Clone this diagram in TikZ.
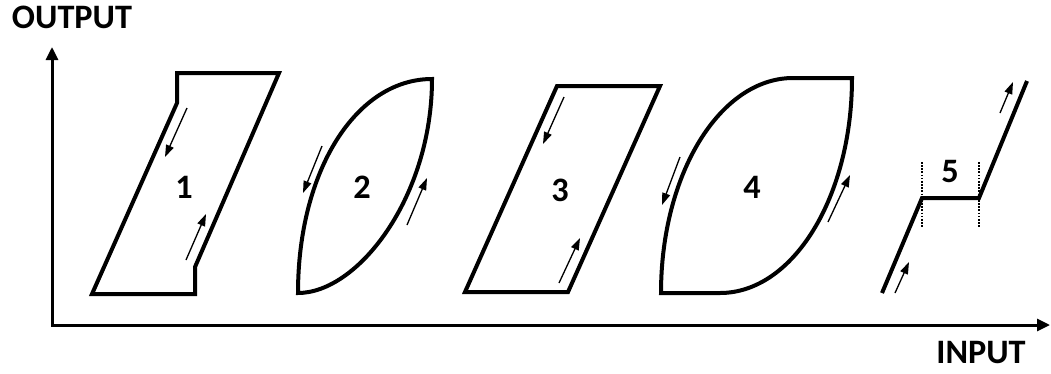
\documentclass[tikz,border=0pt]{standalone}
\usepackage{fontspec}
\setmainfont{Carlito}
\usetikzlibrary{arrows.meta}

\begin{document}
\begin{tikzpicture}[x=0.02cm, y=-0.02cm,
  loop/.style={line width=0.08cm, line join=miter},
  flow/.style={line width=0.75pt, -{Triangle[length=0.24cm, width=0.16cm]}},
  guide/.style={line width=1.2pt, dash pattern=on 0.9pt off 0.9pt},
  tag/.style={font=\bfseries\fontsize{19.5}{20}\selectfont, inner sep=0pt}]
\useasboundingbox (0,0) rectangle (1051,373);
\coordinate (ytop) at (52,47);
\coordinate (origin) at (52,325);
\coordinate (xend) at (1050,325);
\draw[line width=0.06cm, {Triangle[length=0.26cm, width=0.24cm]}-{Triangle[length=0.26cm, width=0.24cm]}]
  (ytop) -- (origin) -- (xend);
\node[tag] (output) at (72,17) {OUTPUT};
\node[tag] (input) at (981,353) {INPUT};

\draw[loop] (177,73) -- (279,73) -- (195,267) -- (195,294) -- (92,294) -- (177,103) -- cycle;
\draw[flow] (187,108) -- (165,157);
\draw[flow] (186,260) -- (206,214);
\node[tag] (n1) at (184,187) {1};

\draw[loop] (298,293) .. controls (298,171) and (356,79) .. (432,79)
  .. controls (432,197) and (358,293) .. cycle;
\draw[flow] (322,146) -- (303,193);
\draw[flow] (407,225) -- (427,178);
\node[tag] (n2) at (362,187) {2};

\draw[loop] (557,86) -- (660,86) -- (568,292) -- (465,292) -- cycle;
\draw[flow] (564,97) -- (543,144);
\draw[flow] (559,283) -- (580,238);
\node[tag] (n3) at (560,190) {3};

\draw[loop] (661,293) .. controls (661,174) and (720,78) .. (793,78) -- (852,78)
  .. controls (852,197) and (793,293) .. (720,293) -- cycle;
\draw[flow] (680,157) -- (662,205);
\draw[flow] (828,222) -- (850,175);
\node[tag] (n4) at (752,187) {4};

\draw[loop] (882,293) -- (922,198) -- (979,198) -- (1027,81);
\draw[guide] (922,162) -- (922,228);
\draw[guide] (979,162) -- (979,228);
\draw[flow] (895,293) -- (909,262);
\draw[flow] (1000,113) -- (1013,82);
\node[tag] (n5) at (950,172) {5};
\end{tikzpicture}
\end{document}
